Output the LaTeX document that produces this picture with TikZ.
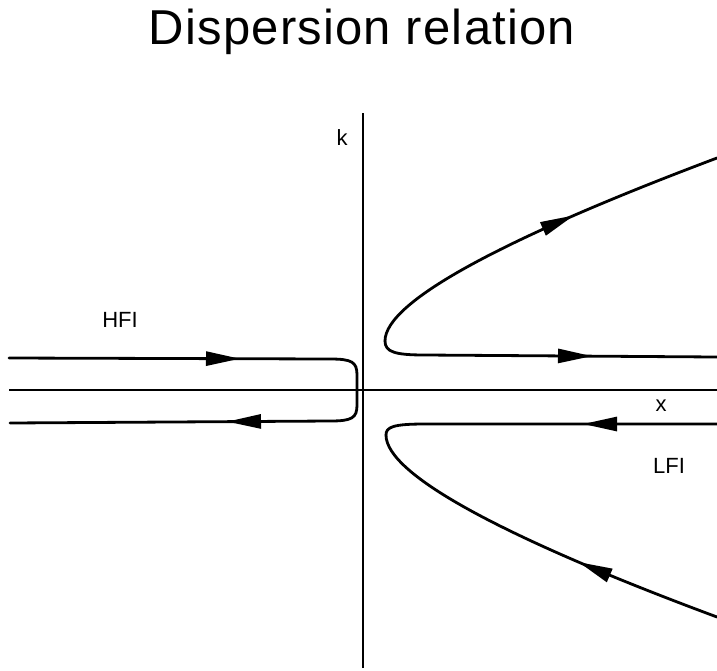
\documentclass[tikz,border=0pt]{standalone}
\usepackage{fontspec}
\setmainfont{Liberation Sans}
\usetikzlibrary{arrows.meta,decorations.markings}
\tikzset{
  curve/.style={line width=2.8pt, line cap=round, line join=round},
  axis/.style={line width=2.2pt},
  lbl/.style={font=\fontsize{22}{24}\selectfont, inner sep=0pt},
  tipat/.style={postaction={decorate, decoration={markings,
      mark=at position #1 with {\arrow{Triangle[length=34pt,width=14pt]}}}}}
}
\begin{document}
\begin{tikzpicture}[x=1pt,y=-1pt]
\useasboundingbox (0,0) rectangle (717,670);
\fill[white] (0,0) rectangle (717,670);
% title
\node[anchor=base, inner sep=0pt, font={\fontsize{49}{52}\selectfont\addfontfeature{LetterSpace=2.5}}] (title) at (362,44) {Dispersion relation};
% axes
\coordinate (kbot) at (363,668);
\coordinate (ktop) at (363,113);
\coordinate (xleft) at (9,390);
\coordinate (xright) at (717,390);
\draw[axis] (kbot) -- (ktop);
\draw[axis] (xleft) -- (xright);
\node[lbl] (klabel) at (342,138) {k};
\node[lbl] (xlabel) at (661,406) {x};
\node[lbl] (hfi) at (120,320) {HFI};
\node[lbl] (lfi) at (669,466) {LFI};
% HFI curve
\coordinate (h1) at (9,358);
\coordinate (h2) at (10,423);
\draw[curve, tipat=231pt, tipat=-217pt] (h1) -- (330,359) .. controls (352,359) and (357,362) .. (357,375)
  -- (357,405) .. controls (357,418) and (352,421) .. (330,421) -- (h2);
% upper right branch
\coordinate (uv) at (385,341);
\coordinate (ue1) at (717,357);
\coordinate (ue2) at (717,158);
\draw[curve, tipat=-125pt] (uv) .. controls (385,352) and (395,355) .. (425,355) -- (ue1);
\draw[curve, tipat=-154pt] (uv) .. controls (385,301) and (507,237) .. (ue2);
% lower right branch
\coordinate (lv) at (386,435);
\coordinate (le1) at (717,424);
\coordinate (le2) at (717,617);
\draw[curve, tipat=134pt] (le1) -- (425,424) .. controls (393,424) and (386,427) .. (lv);
\draw[curve, tipat=149pt] (le2) .. controls (507,539) and (386,475) .. (lv);
\end{tikzpicture}
\end{document}
